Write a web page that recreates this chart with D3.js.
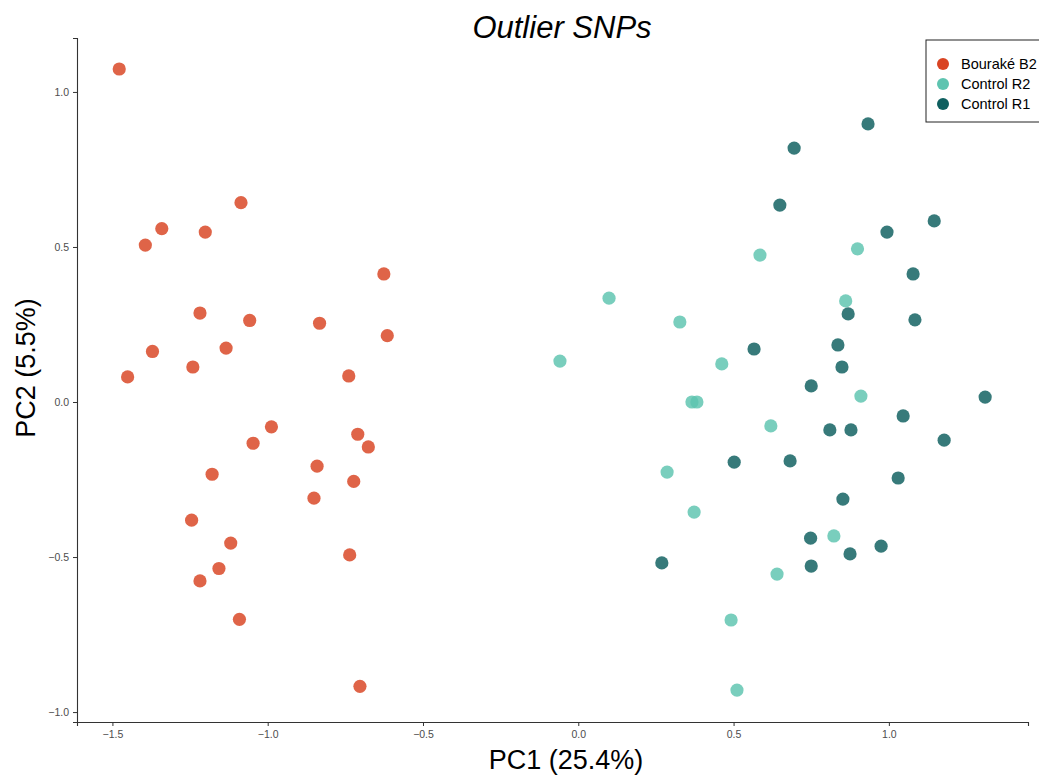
<!DOCTYPE html>
<html>
<head>
<meta charset="utf-8">
<script src="https://cdn.jsdelivr.net/npm/d3@7"></script>
<style>
  html, body { margin: 0; padding: 0; background: #fff; }
  svg { display: block; font-family: "Liberation Sans", Arial, Helvetica, sans-serif; }
</style>
</head>
<body>
<svg id="chart" width="1039" height="778"></svg>
<script>
// PCA scores on outlier SNPs, one array pair per population
const bourakeB2_PC1 = [-1.478, -1.086, -1.341, -1.201, -1.394, -0.626, -1.218, -1.058, -0.833, -0.615,
  -1.371, -1.134, -1.241, -1.451, -0.739, -0.988, -0.710, -1.047, -0.676, -0.841,
  -1.179, -0.723, -0.851, -1.245, -1.119, -0.736, -1.157, -1.218, -1.091, -0.703];
const bourakeB2_PC2 = [1.074, 0.643, 0.559, 0.548, 0.506, 0.413, 0.287, 0.263, 0.254, 0.214,
  0.163, 0.174, 0.113, 0.081, 0.084, -0.080, -0.104, -0.133, -0.145, -0.207,
  -0.233, -0.256, -0.310, -0.381, -0.455, -0.493, -0.537, -0.577, -0.701, -0.917];

const controlR2_PC1 = [-0.059, 0.099, 0.327, 0.462, 0.585, 0.899, 0.861, 0.366, 0.382, 0.620,
  0.910, 0.286, 0.373, 0.823, 0.640, 0.492, 0.511];
const controlR2_PC2 = [0.132, 0.335, 0.258, 0.123, 0.474, 0.494, 0.326, 0.000, 0.000, -0.077,
  0.019, -0.226, -0.355, -0.432, -0.555, -0.703, -0.929];

const controlR1_PC1 = [0.933, 0.695, 0.649, 1.146, 0.994, 1.078, 0.869, 1.084, 0.566, 0.836,
  0.849, 0.750, 1.310, 1.046, 0.810, 0.878, 1.178, 0.502, 0.682, 1.030,
  0.852, 0.748, 0.975, 0.875, 0.269, 0.750];
const controlR1_PC2 = [0.897, 0.819, 0.635, 0.584, 0.548, 0.413, 0.284, 0.265, 0.171, 0.184,
  0.113, 0.052, 0.016, -0.045, -0.090, -0.090, -0.123, -0.194, -0.190, -0.245,
  -0.313, -0.439, -0.465, -0.490, -0.519, -0.529];

const groupNames = ["Bouraké B2", "Control R2", "Control R1"];
const groupColors = ["#D94423", "#5EC4B0", "#0F5F5F"];

const xTicks = [-1.5, -1.0, -0.5, 0.0, 0.5, 1.0];
const yTicks = [-1.0, -0.5, 0.0, 0.5, 1.0];

const titleText = "Outlier SNPs";
const xLabel = "PC1 (25.4%)";
const yLabel = "PC2 (5.5%)";

const groups = [
  { name: groupNames[0], color: groupColors[0], x: bourakeB2_PC1, y: bourakeB2_PC2 },
  { name: groupNames[1], color: groupColors[1], x: controlR2_PC1, y: controlR2_PC2 },
  { name: groupNames[2], color: groupColors[2], x: controlR1_PC1, y: controlR1_PC2 }
];

const svg = d3.select("#chart");
const margin = { left: 77, right: 11, top: 38, bottom: 56 };
const W = 1039, H = 778;
const plotW = W - margin.left - margin.right;
const plotH = H - margin.top - margin.bottom;

const x = d3.scaleLinear().domain([-1.614, 1.448]).range([0, plotW]);
const y = d3.scaleLinear().domain([-1.032, 1.174]).range([plotH, 0]);

const g = svg.append("g").attr("transform", `translate(${margin.left},${margin.top})`);

// axes in the classic theme: solid axis lines, short ticks, grey labels
const fmt = d3.format(".1f");
const minus = s => s.replace("-", "\u2212");

const xAxis = g.append("g")
  .attr("transform", `translate(0,${plotH})`)
  .call(d3.axisBottom(x).tickValues(xTicks).tickSize(4).tickPadding(5).tickFormat(d => minus(fmt(d))));
const yAxis = g.append("g")
  .call(d3.axisLeft(y).tickValues(yTicks).tickSize(4).tickPadding(4).tickFormat(d => minus(fmt(d))));

[xAxis, yAxis].forEach(a => {
  a.select(".domain").attr("stroke", "#333").attr("stroke-width", 1.1);
  a.selectAll(".tick line").attr("stroke", "#333").attr("stroke-width", 1);
  a.selectAll(".tick text").attr("fill", "#4d4d4d").attr("font-size", 10.5)
    .attr("font-family", "Liberation Sans, Arial, sans-serif");
});

// points
groups.forEach(grp => {
  g.append("g").selectAll("circle")
    .data(grp.x.map((v, i) => [v, grp.y[i]]))
    .join("circle")
    .attr("cx", d => x(d[0]))
    .attr("cy", d => y(d[1]))
    .attr("r", 6.6)
    .attr("fill", grp.color)
    .attr("fill-opacity", 0.83);
});

// title and axis labels
svg.append("text")
  .attr("x", 562).attr("y", 38)
  .attr("text-anchor", "middle")
  .attr("font-size", 31).attr("font-style", "italic")
  .attr("fill", "#000")
  .text(titleText);

svg.append("text")
  .attr("x", 566).attr("y", 769)
  .attr("text-anchor", "middle")
  .attr("font-size", 27).attr("fill", "#000")
  .text(xLabel);

svg.append("text")
  .attr("transform", `translate(35,368) rotate(-90)`)
  .attr("text-anchor", "middle")
  .attr("font-size", 27).attr("fill", "#000")
  .text(yLabel);

// legend
const lg = svg.append("g").attr("transform", "translate(926,40)");
lg.append("rect")
  .attr("x", 0).attr("y", 0).attr("width", 130).attr("height", 82)
  .attr("fill", "#fff").attr("stroke", "#222").attr("stroke-width", 1);
groups.forEach((grp, i) => {
  const row = lg.append("g").attr("transform", `translate(0,${24 + i * 20})`);
  row.append("circle").attr("cx", 17).attr("cy", 0).attr("r", 6).attr("fill", grp.color);
  row.append("text").attr("x", 35).attr("y", 5)
    .attr("font-size", 14.5).attr("fill", "#000")
    .text(grp.name);
});
</script>
</body>
</html>
